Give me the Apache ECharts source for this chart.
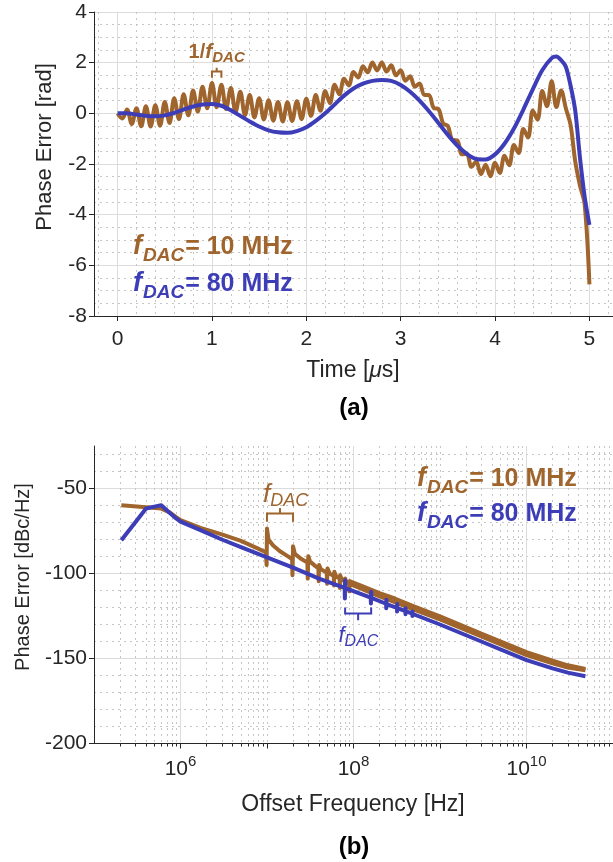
<!DOCTYPE html>
<html><head><meta charset="utf-8">
<script src="https://cdn.jsdelivr.net/npm/echarts@6/dist/echarts.min.js"></script>
<style>html,body{margin:0;padding:0;background:#fff;}#c{width:613px;height:862px;}</style>
</head><body><div id="c"></div>
<script>
// ---------- (a) time domain ----------
const time80 = [0,0.1,0.2,0.3,0.4,0.5,0.6,0.7,0.8,0.9,1.0,1.1,1.2,1.3,1.4,1.5,1.6,1.7,1.8,1.9,2.0,2.1,2.2,2.3,2.4,2.5,2.6,2.7,2.8,2.9,3.0,3.1,3.2,3.3,3.4,3.5,3.6,3.7,3.8,3.9,4.0,4.1,4.2,4.3,4.4,4.5,4.6,4.65,4.7,4.75,4.8,4.85,4.9,4.95,5.0];
const phase80 = [0,0,-0.05,-0.1,-0.12,-0.08,0.02,0.15,0.27,0.35,0.37,0.3,0.12,-0.1,-0.32,-0.52,-0.67,-0.75,-0.77,-0.7,-0.55,-0.3,0.0,0.35,0.7,0.98,1.17,1.28,1.32,1.28,1.12,0.85,0.5,0.08,-0.38,-0.85,-1.27,-1.6,-1.8,-1.82,-1.62,-1.2,-0.6,0.15,0.95,1.7,2.18,2.24,2.1,1.84,1.1,0.1,-1.75,-3.3,-4.4];
const time10 = [0,0.05,0.1,0.15,0.2,0.25,0.3,0.35,0.4,0.45,0.5,0.55,0.6,0.65,0.7,0.75,0.8,0.85,0.9,0.95,1,1.05,1.1,1.15,1.2,1.25,1.3,1.35,1.4,1.45,1.5,1.55,1.6,1.65,1.7,1.75,1.8,1.85,1.9,1.95,2,2.05,2.1,2.15,2.2,2.25,2.3,2.35,2.4,2.45,2.5,2.55,2.6,2.65,2.7,2.75,2.8,2.85,2.9,2.95,3,3.05,3.1,3.15,3.2,3.25,3.3,3.35,3.4,3.45,3.5,3.55,3.6,3.65,3.7,3.75,3.8,3.85,3.9,3.95,4,4.05,4.1,4.15,4.2,4.25,4.3,4.35,4.4,4.45,4.5,4.55,4.6,4.65,4.7,4.75,4.8,4.85,4.9,4.95,5];
const phase10 = [0,-0.2,0.15,-0.42,0.2,-0.51,0.28,-0.52,0.32,-0.49,0.45,-0.38,0.6,-0.23,0.75,-0.08,0.9,0.07,1.05,0.2,1.2,0.24,1.13,0.17,1.0,0.04,0.85,-0.07,0.72,-0.16,0.6,-0.24,0.52,-0.29,0.45,-0.32,0.44,-0.3,0.48,-0.23,0.58,-0.1,0.72,0.1,0.88,0.4,1.13,0.75,1.37,1.1,1.63,1.41,1.86,1.62,2.01,1.69,2.01,1.65,1.9,1.5,1.7,1.29,1.46,1.05,1.18,0.73,0.72,0.21,0.17,-0.4,-0.5,-1.05,-1.07,-1.62,-1.6,-2.11,-1.9,-2.4,-2.03,-2.48,-1.95,-2.35,-1.67,-2.05,-1.25,-1.57,-0.62,-0.95,0.11,-0.25,0.88,0.28,1.27,0.25,0.9,0.2,-0.45,-1.9,-2.85,-3.6,-6.75];
const timeTicks = [0,1,2,3,4,5];

// ---------- (b) frequency domain ----------
const freq80 = [2.07e5,4.0e5,6.0e5,7.2e5,8.9e5,1.0e6,1.7e6,3.0e6,5.0e6,1.0e7,2.0e7,4.0e7,7.9e7,7.95e7,8.0e7,8.05e7,1.58e8,1.59e8,1.6e8,1.61e8,2.38e8,2.39e8,2.4e8,2.41e8,3.18e8,3.19e8,3.2e8,3.21e8,3.98e8,3.99e8,4.0e8,4.01e8,4.78e8,4.79e8,4.8e8,4.81e8,5.58e8,5.59e8,5.6e8,5.61e8,1.0e9,3.0e9,1.0e10,2.0e10,3.0e10,4.8e10];
const pn80 = [-80.4,-61.8,-59.8,-63.5,-67.6,-69.5,-74.5,-80,-84.5,-90.5,-96.5,-103,-108.4,-114.7,-104,-108.6,-114.2,-117.6,-110.8,-114.4,-117.8,-120.4,-115.4,-118,-120.2,-122.4,-118,-120.3,-122.1,-123.9,-120.5,-122.2,-123.6,-125,-122.3,-123.7,-125,-126.1,-124,-125.1,-130,-140,-151,-155.8,-158.3,-160.4];
const freq10 = [2.07e5,6.0e5,7.5e5,8.9e5,1.0e6,1.7e6,3.0e6,5.0e6,8.0e6,9.7e6,9.9e6,1.0e7,1.04e7,1.17e7,1.4e7,1.66e7,1.95e7,1.97e7,2.0e7,2.1e7,2.5e7,2.93e7,2.96e7,3.0e7,3.15e7,3.6e7,3.93e7,3.96e7,4.0e7,4.2e7,4.9e7,4.95e7,5.0e7,5.3e7,5.92e7,5.95e7,6.0e7,6.3e7,6.93e7,6.96e7,7.0e7,7.3e7,7.93e7,7.96e7,8.0e7,8.3e7,8.93e7,8.96e7,9.0e7,9.5e7,1.0e8,1.5e8,2.0e8,3.0e8,5.0e8,1.0e9,3.0e9,1.0e10,2.0e10,3.0e10,4.8e10];
const pn10 = [-59.8,-61.8,-64,-66.8,-68.6,-73.2,-77,-80.8,-85.5,-87.5,-95,-73.5,-80,-83.4,-86.8,-89.2,-91.5,-101,-84,-88.5,-91.5,-93.5,-103,-89.8,-93,-95.5,-97,-104.5,-95,-97.5,-99.5,-106,-97,-100,-101.5,-107,-99,-101.8,-103,-108.5,-101,-103.5,-104.5,-109.5,-103,-105,-106,-110.5,-104.5,-106.5,-106,-110.8,-113.4,-116.8,-121.2,-127,-137,-148,-152.8,-155.3,-156.9];
// upper edge of the dense 10 MHz spur band
const freq10Band = [9.0e7,1.2e8,2.0e8,3.0e8,5.0e8,1.0e9,3.0e9,1.0e10,2.0e10,3.0e10,4.8e10];
const pn10Band = [-104.5,-107,-111.5,-114.7,-119.3,-125.2,-135.3,-146.2,-151.2,-154,-156.2];
const freqLabelTicks = [1e6,1e8,1e10];
const freqOddTicks = [1e7,1e9];
const pnTicks = [-200,-150,-100,-50];

const zip = (a,b) => a.map((v,i)=>[v,b[i]]);

const FONT = '"Liberation Sans", Arial, Helvetica, sans-serif';
const TXT = '#262626';
const BROWN = '#A0642D';
const BLUE = '#3D3DB8';
const MAJOR = '#dcdcdc';
const MINOR = '#c6c6c6';
const TICKFS = 21;

const chart = echarts.init(document.getElementById('c'), null, {renderer:'canvas'});

function baseAxis(extra){
  return Object.assign({
    axisLine:{show:true,onZero:false,lineStyle:{color:TXT,width:1}},
    axisTick:{show:true,length:5,lineStyle:{color:TXT,width:1}},
    axisLabel:{color:TXT,fontSize:TICKFS,fontFamily:FONT},
    splitLine:{show:true,lineStyle:{color:MAJOR,width:1}},
    minorTick:{show:false},
    minorSplitLine:{show:true,lineStyle:{color:MINOR,width:1,type:[2,4]}}
  }, extra);
}

const option = {
  animation:false,
  backgroundColor:'#fff',
  grid:[
    {left:94,top:12,width:520,height:304},
    {left:94,top:446,width:519.5,height:297.5}
  ],
  xAxis:[
    baseAxis({type:'value',gridIndex:0,min:-0.25,max:5.25,position:'bottom',
      axisTick:{show:true,length:5,customValues:timeTicks,lineStyle:{color:TXT}},
      axisLabel:{color:TXT,fontSize:TICKFS,fontFamily:FONT,margin:13,customValues:timeTicks},
      minorTick:{show:false,splitNumber:5}}),
    baseAxis({type:'log',gridIndex:1,min:1e5,max:1e11,logBase:10,position:'bottom',
      axisTick:{show:true,length:5,customValues:freqLabelTicks,lineStyle:{color:TXT}},
      axisLabel:{customValues:freqLabelTicks,margin:11,
        formatter:function(v){return '{b|10}{s|'+Math.round(Math.log10(v))+'}';},
        rich:{b:{fontSize:TICKFS,fontFamily:FONT,color:TXT},s:{fontSize:15,fontFamily:FONT,color:TXT,padding:[0,0,14,0]}}},
      minorTick:{show:true,splitNumber:9,length:3,lineStyle:{color:TXT}}}),
    {type:'log',gridIndex:1,min:1e5,max:1e11,logBase:10,position:'bottom',offset:0,
      axisLine:{show:false},axisLabel:{show:false},
      axisTick:{show:true,length:5,customValues:freqOddTicks,lineStyle:{color:TXT}},
      splitLine:{show:true,lineStyle:{color:MINOR,width:1,type:[2,4]}},
      minorTick:{show:false},minorSplitLine:{show:false}}
  ],
  yAxis:[
    baseAxis({type:'value',gridIndex:0,min:-8,max:4,interval:2,
      axisLabel:{color:TXT,fontSize:TICKFS,fontFamily:FONT,margin:7},
      minorTick:{show:false,splitNumber:4}}),
    baseAxis({type:'value',gridIndex:1,min:-200,max:-25,interval:50,
      axisTick:{show:true,length:5,customValues:pnTicks,lineStyle:{color:TXT}},
      axisLabel:{color:TXT,fontSize:TICKFS,fontFamily:FONT,margin:7,customValues:pnTicks},
      minorTick:{show:false,splitNumber:5}})
  ],
  series:[
    {type:'line',name:'10 MHz (a)',xAxisIndex:0,yAxisIndex:0,data:zip(time10,phase10),showSymbol:false,smooth:0.35,
      lineStyle:{color:BROWN,width:4},itemStyle:{color:BROWN},z:2,silent:true},
    {type:'line',name:'80 MHz (a)',xAxisIndex:0,yAxisIndex:0,data:zip(time80,phase80),showSymbol:false,smooth:0.3,
      lineStyle:{color:BLUE,width:4},itemStyle:{color:BLUE},z:3,silent:true},
    {type:'line',name:'10 MHz (b)',xAxisIndex:1,yAxisIndex:1,data:zip(freq10,pn10),showSymbol:false,
      lineStyle:{color:BROWN,width:4,join:'round'},itemStyle:{color:BROWN},z:2,silent:true},
    {type:'line',name:'10 MHz band',xAxisIndex:1,yAxisIndex:1,data:zip(freq10Band,pn10Band),showSymbol:false,
      lineStyle:{color:BROWN,width:4},itemStyle:{color:BROWN},z:2,silent:true},
    {type:'line',name:'80 MHz (b)',xAxisIndex:1,yAxisIndex:1,data:zip(freq80,pn80),showSymbol:false,
      lineStyle:{color:BLUE,width:4,join:'round'},itemStyle:{color:BLUE},z:3,silent:true}
  ]
};
chart.setOption(option);

// ---------- text helpers ----------
const mctx = document.createElement('canvas').getContext('2d');
function measure(text,font){mctx.font=font;return mctx.measureText(text).width;}
function row(x,y,pieces,anchor){
  const ws = pieces.map(p=>measure(p.text,p.font)+(p.dx||0));
  const total = ws.reduce((a,b)=>a+b,0);
  let cx = anchor==='center' ? x-total/2 : x;
  const out=[];
  pieces.forEach((p,i)=>{
    out.push({type:'text',x:cx+(p.dx||0),y:y+(p.dy||0),silent:true,z:100,
      style:{text:p.text,font:p.font,fill:p.fill,textAlign:'left',textVerticalAlign:'middle'}});
    cx+=ws[i];
  });
  return out;
}
function txt(x,y,text,font,fill,rot){
  return {type:'text',x:x,y:y,rotation:rot||0,silent:true,z:100,
    style:{text:text,font:font,fill:fill,textAlign:'center',textVerticalAlign:'middle'}};
}
function bracket(p0,p1,yLine,yLeg,yTip,color){
  const xm=(p0+p1)/2;
  return [
    {type:'polyline',silent:true,z:100,shape:{points:[[p0,yLeg],[p0,yLine],[p1,yLine],[p1,yLeg]]},style:{stroke:color,lineWidth:2,fill:null}},
    {type:'line',silent:true,z:100,shape:{x1:xm,y1:yLine,x2:xm,y2:yTip},style:{stroke:color,lineWidth:2}}
  ];
}
const px = (si,pt)=>chart.convertToPixel({seriesIndex:si},pt);

const F = s => s+' '+FONT;
let g = [];
// axis titles
g.push(txt(45,147,'Phase Error [rad]',F('22px'),TXT,Math.PI/2));
g.push(txt(23,577,'Phase Error [dBc/Hz]',F('20px'),TXT,Math.PI/2));
g = g.concat(row(353,371,[
  {text:'Time [',font:F('23px'),fill:TXT},
  {text:'\u03bc',font:F('italic 23px'),fill:TXT},
  {text:'s]',font:F('23px'),fill:TXT}],'center'));
g.push(txt(353,805,'Offset Frequency [Hz]',F('23px'),TXT));
g.push(txt(354,408,'(a)',F('bold 24px'),'#000'));
g.push(txt(354,847,'(b)',F('bold 24px'),'#000'));

// legends
function dacLegend(x,y,rest,color,fs){
  return row(x,y,[
    {text:'f',font:F('italic bold '+(fs+2)+'px'),fill:color},
    {text:'DAC',font:F('italic bold '+Math.round(fs*0.76)+'px'),fill:color,dy:Math.round(fs*0.34),dx:1},
    {text:'= '+rest,font:F('bold '+fs+'px'),fill:color,dx:1}],'left');
}
g = g.concat(dacLegend(133,247,'10 MHz',BROWN,25));
g = g.concat(dacLegend(133,284,'80 MHz',BLUE,25));
g = g.concat(dacLegend(417,479,'10 MHz',BROWN,25));
g = g.concat(dacLegend(417,514,'80 MHz',BLUE,25));

// (a) 1/fDAC annotation
{
  const a = px(0,[1.0,1.65]), b = px(0,[1.1,1.4]), c = px(0,[1.05,1.8]);
  g = g.concat(bracket(a[0],b[0],a[1],b[1],c[1],BROWN));
  const t = px(0,[1.05,2.42]);
  g = g.concat(row(t[0],t[1],[
    {text:'1/',font:F('bold 20px'),fill:BROWN},
    {text:'f',font:F('italic bold 21px'),fill:BROWN},
    {text:'DAC',font:F('italic bold 15px'),fill:BROWN,dy:6}],'center'));
}
// (b) brown fDAC annotation
{
  const a = px(2,[1e7,-64.7]), b = px(2,[2e7,-69.5]), c = px(2,[1.414e7,-61.5]);
  g = g.concat(bracket(a[0],b[0],a[1],b[1],c[1],BROWN));
  const t = px(2,[1.64e7,-53.8]);
  g = g.concat(row(t[0],t[1],[
    {text:'f',font:F('italic 26px'),fill:BROWN},
    {text:'DAC',font:F('italic 18px'),fill:BROWN,dy:6}],'center'));
}
// (b) blue fDAC annotation
{
  const a = px(4,[8e7,-123.5]), b = px(4,[1.6e8,-120]), c = px(4,[1.131e8,-127.5]);
  g = g.concat(bracket(a[0],b[0],a[1],b[1],c[1],BLUE));
  const t = px(4,[1.14e8,-136.8]);
  g = g.concat(row(t[0],t[1],[
    {text:'f',font:F('italic 22px'),fill:BLUE},
    {text:'DAC',font:F('italic 16px'),fill:BLUE,dy:5}],'center'));
}
chart.setOption({graphic:{elements:g}});
</script>
</body></html>
